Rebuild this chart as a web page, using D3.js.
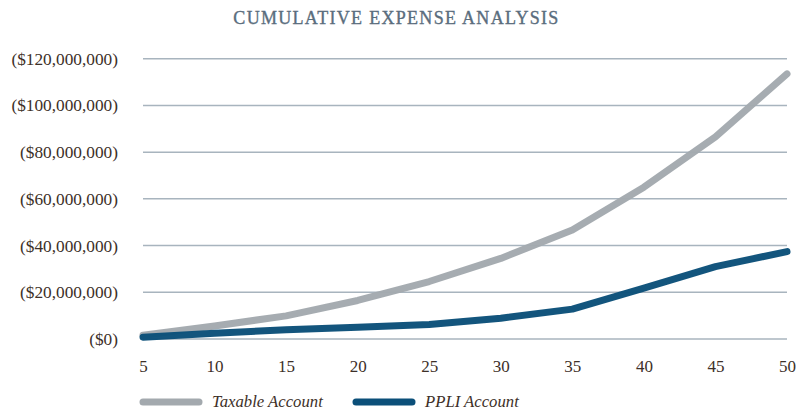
<!DOCTYPE html>
<html>
<head>
<meta charset="utf-8">
<script src="https://cdn.jsdelivr.net/npm/d3@7"></script>
<style>
  html, body { margin: 0; padding: 0; background: #ffffff; }
  svg { display: block; }
</style>
</head>
<body>
<svg id="chart" width="805" height="411"></svg>
<script>
const years = [5, 10, 15, 20, 25, 30, 35, 40, 45, 50];
const taxable = [1.6e6, 5.6e6, 9.9e6, 16.5e6, 24.6e6, 34.5e6, 46.7e6, 65.0e6, 86.5e6, 113.5e6];
const ppli = [0.8e6, 2.5e6, 4.0e6, 5.0e6, 6.2e6, 8.9e6, 12.8e6, 21.8e6, 31.0e6, 37.4e6];
const yTicks = [0, 20e6, 40e6, 60e6, 80e6, 100e6, 120e6];
const seriesNames = ["Taxable Account", "PPLI Account"];
const titleText = "CUMULATIVE EXPENSE ANALYSIS";

const colors = ["#a3a9ae", "#0b4f79"];
const font = "'Liberation Serif', 'Times New Roman', serif";
const textColor = "#3d3028";

const svg = d3.select("#chart");
const m = { left: 143, right: 787, top: 58.7, bottom: 339 };

const x = d3.scaleLinear().domain([5, 50]).range([m.left, m.right]);
const y = d3.scaleLinear().domain([0, 120e6]).range([m.bottom, m.top]);

// title
svg.append("text")
  .attr("x", 396.5).attr("y", 24)
  .attr("text-anchor", "middle")
  .attr("font-family", font)
  .attr("font-size", 18)
  .attr("letter-spacing", 1.3)
  .attr("fill", "#5a6d7d")
  .attr("stroke", "#5a6d7d").attr("stroke-width", 0.35)
  .text(titleText);

// gridlines
svg.append("g").selectAll("line").data(yTicks).join("line")
  .attr("x1", m.left).attr("x2", m.right)
  .attr("y1", d => y(d)).attr("y2", d => y(d))
  .attr("stroke", "#a8b4be").attr("stroke-width", 1.5);

// y axis labels
const fmt = d3.format(",");
const yAxis = d3.axisLeft(y).tickValues(yTicks).tickSize(0).tickPadding(0)
  .tickFormat(d => "($" + fmt(d) + ")");
const gy = svg.append("g").attr("transform", `translate(118,0)`).call(yAxis);
gy.select(".domain").remove();
gy.selectAll("text").attr("font-family", font).attr("font-size", 17.3)
  .attr("fill", textColor).attr("dy", "0.32em");

// x axis labels
const xAxis = d3.axisBottom(x).tickValues(years).tickSize(0).tickPadding(0)
  .tickFormat(d3.format("d"));
const gx = svg.append("g").attr("transform", `translate(0,360)`).call(xAxis);
gx.select(".domain").remove();
gx.selectAll("text").attr("font-family", font).attr("font-size", 17)
  .attr("fill", textColor).attr("dy", "0.71em");

// lines
const line = d3.line().x((d, i) => x(years[i])).y(d => y(d));
[taxable, ppli].forEach((s, k) => {
  svg.append("path").datum(s)
    .attr("d", line)
    .attr("fill", "none")
    .attr("stroke", colors[k])
    .attr("stroke-width", 7)
    .attr("stroke-linecap", "round")
    .attr("stroke-linejoin", "round")
    .attr("opacity", 0.97);
});

// legend
const legendPos = [143, 356];
seriesNames.forEach((name, k) => {
  const g = svg.append("g").attr("transform", `translate(${legendPos[k]},402)`);
  g.append("line").attr("x1", 0).attr("x2", 56).attr("y1", 0).attr("y2", 0)
    .attr("stroke", colors[k]).attr("stroke-width", 7).attr("stroke-linecap", "round");
  g.append("text").attr("x", 69).attr("y", 5)
    .attr("font-family", font).attr("font-style", "italic").attr("font-size", 16.7)
    .attr("fill", textColor).text(name);
});
</script>
</body>
</html>
